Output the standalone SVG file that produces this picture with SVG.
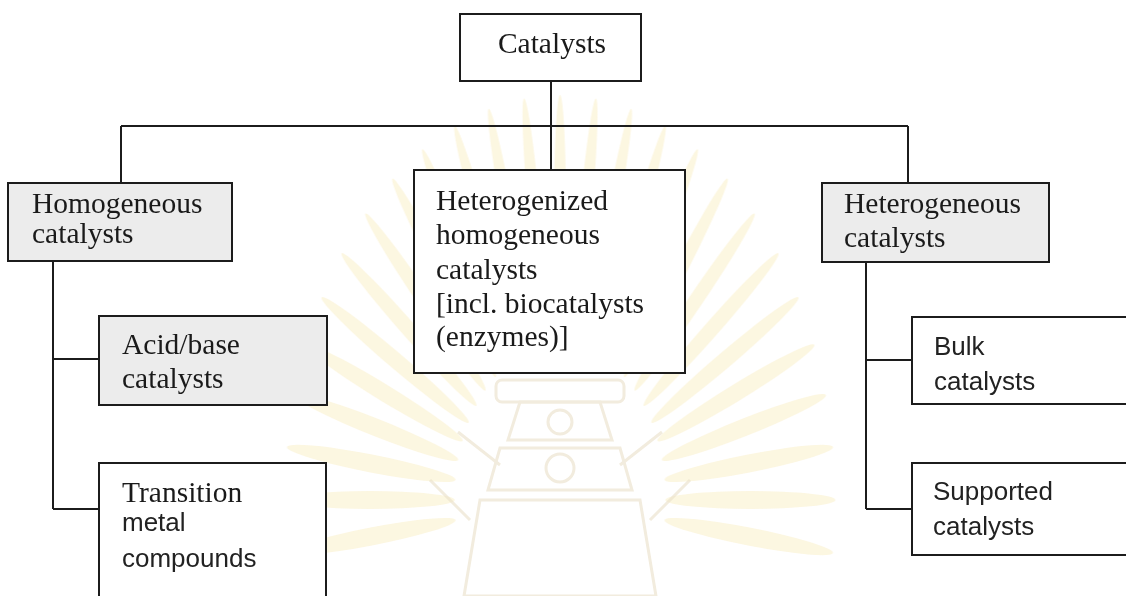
<svg xmlns="http://www.w3.org/2000/svg" xmlns:xlink="http://www.w3.org/1999/xlink" width="1126" height="596" viewBox="0 0 1126 596">
  <defs>
    <style>
      .box { stroke: #1c1c1c; stroke-width: 2; fill: #ffffff; }
      .shade { fill: #ececec; }
      .serif { font-family: "Liberation Serif", "Times New Roman", serif; font-size: 29.5px; fill: #1a1a1a; }
      .sans { font-family: "Liberation Sans", Arial, sans-serif; font-size: 26px; fill: #222222; }
      .link { stroke: #1c1c1c; stroke-width: 2; fill: none; }
      .ray { fill: #f6e4a0; opacity: 0.32; }
      .emblem { fill: none; stroke: #e9dfc8; stroke-width: 3; opacity: 0.6; }
    </style>
    <ellipse id="petal" cx="0" cy="-280" rx="9" ry="125"/>
  </defs>

  <rect width="1126" height="596" fill="#ffffff"/>

  <!-- faint background emblem -->
  <g id="emblem-bg">
    <g class="ray" transform="translate(560,500) scale(0.68,1)">
      <use xlink:href="#petal" transform="rotate(-97.5)"/>
      <use xlink:href="#petal" transform="rotate(-90)"/>
      <use xlink:href="#petal" transform="rotate(-82.5)"/>
      <use xlink:href="#petal" transform="rotate(-75)"/>
      <use xlink:href="#petal" transform="rotate(-67.5)"/>
      <use xlink:href="#petal" transform="rotate(-60)"/>
      <use xlink:href="#petal" transform="rotate(-52.5)"/>
      <use xlink:href="#petal" transform="rotate(-45)"/>
      <use xlink:href="#petal" transform="rotate(-37.5)"/>
      <use xlink:href="#petal" transform="rotate(-30)"/>
      <use xlink:href="#petal" transform="rotate(-22.5)"/>
      <use xlink:href="#petal" transform="rotate(-15)"/>
      <use xlink:href="#petal" transform="rotate(-7.5)"/>
      <use xlink:href="#petal" transform="rotate(0)"/>
      <use xlink:href="#petal" transform="rotate(7.5)"/>
      <use xlink:href="#petal" transform="rotate(15)"/>
      <use xlink:href="#petal" transform="rotate(22.5)"/>
      <use xlink:href="#petal" transform="rotate(30)"/>
      <use xlink:href="#petal" transform="rotate(37.5)"/>
      <use xlink:href="#petal" transform="rotate(45)"/>
      <use xlink:href="#petal" transform="rotate(52.5)"/>
      <use xlink:href="#petal" transform="rotate(60)"/>
      <use xlink:href="#petal" transform="rotate(67.5)"/>
      <use xlink:href="#petal" transform="rotate(75)"/>
      <use xlink:href="#petal" transform="rotate(82.5)"/>
      <use xlink:href="#petal" transform="rotate(90)"/>
      <use xlink:href="#petal" transform="rotate(97.5)"/>
    </g>
    <g class="emblem">
      <rect x="496" y="380" width="128" height="22" rx="6"/>
      <path d="M520,402 L600,402 L612,440 L508,440 Z"/>
      <circle cx="560" cy="422" r="12"/>
      <path d="M500,448 L620,448 L632,490 L488,490 Z"/>
      <circle cx="560" cy="468" r="14"/>
      <path d="M480,500 L640,500 L656,596 L464,596 Z"/>
      <path d="M458,432 L500,465 M662,432 L620,465 M470,520 L430,480 M650,520 L690,480"/>
    </g>
  </g>

  <!-- connectors -->
  <g id="connectors">
    <path class="link" d="M551,81 V126 M121,126 H908 M121,126 V183 M551,126 V170 M908,126 V183"/>
    <path class="link" d="M53,261 V509 M53,359 H99 M53,509 H99"/>
    <path class="link" d="M866,262 V509 M866,360 H912 M866,509 H912"/>
  </g>

  <g id="node-catalysts">
    <rect class="box" x="460" y="14" width="181" height="67"/>
    <text class="serif" x="552" y="53" text-anchor="middle">Catalysts</text>
  </g>

  <g id="node-homogeneous">
    <rect class="box shade" x="8" y="183" width="224" height="78"/>
    <text class="serif" x="32" y="213">Homogeneous</text>
    <text class="serif" x="32" y="243">catalysts</text>
  </g>

  <g id="node-heterogenized">
    <rect class="box" x="414" y="170" width="271" height="203"/>
    <text class="serif" x="436" y="210">Heterogenized</text>
    <text class="serif" x="436" y="244">homogeneous</text>
    <text class="serif" x="436" y="279">catalysts</text>
    <text class="serif" x="436" y="313">[incl. biocatalysts</text>
    <text class="serif" x="436" y="346">(enzymes)]</text>
  </g>

  <g id="node-heterogeneous">
    <rect class="box shade" x="822" y="183" width="227" height="79"/>
    <text class="serif" x="844" y="213">Heterogeneous</text>
    <text class="serif" x="844" y="247">catalysts</text>
  </g>

  <g id="node-acid-base">
    <rect class="box shade" x="99" y="316" width="228" height="89"/>
    <text class="serif" x="122" y="354">Acid/base</text>
    <text class="serif" x="122" y="388">catalysts</text>
  </g>

  <g id="node-transition">
    <rect class="box" x="99" y="463" width="227" height="150"/>
    <text class="serif" x="122" y="502">Transition</text>
    <text class="sans" x="122" y="531">metal</text>
    <text class="sans" x="122" y="567">compounds</text>
  </g>

  <g id="node-bulk">
    <rect class="box" x="912" y="317" width="230" height="87"/>
    <text class="sans" x="934" y="355">Bulk</text>
    <text class="sans" x="934" y="390">catalysts</text>
  </g>

  <g id="node-supported">
    <rect class="box" x="912" y="463" width="230" height="92"/>
    <text class="sans" x="933" y="500">Supported</text>
    <text class="sans" x="933" y="535">catalysts</text>
  </g>
</svg>
